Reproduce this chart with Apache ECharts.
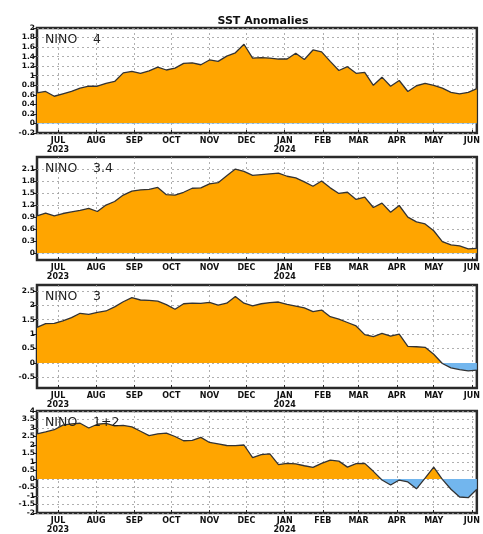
<!DOCTYPE html>
<html><head><meta charset="utf-8">
<script src="https://cdn.jsdelivr.net/npm/echarts@6/dist/echarts.min.js"></script>
<style>html,body{margin:0;padding:0;background:#fff}#c{width:483px;height:534px}</style>
</head><body><div id="c"></div>
<script>
// ---- data ----
const firstWeek = '2023-06-14';   // weekly (Wednesday-centred) values
const lastDay = '2024-06-05';
const monthTickDates = ['2023-07-01','2023-08-01','2023-09-01','2023-10-01','2023-11-01','2023-12-01',
                        '2024-01-01','2024-02-01','2024-03-01','2024-04-01','2024-05-01','2024-06-01'];
const monthLabels = ['JUL\n2023','AUG','SEP','OCT','NOV','DEC','JAN\n2024','FEB','MAR','APR','MAY','JUN'];

const nino4 = [0.64,0.67,0.57,0.62,0.67,0.74,0.78,0.78,0.84,0.88,1.06,1.09,1.05,1.10,1.18,1.12,1.16,1.26,1.27,1.23,
               1.33,1.30,1.41,1.48,1.66,1.37,1.38,1.37,1.35,1.35,1.47,1.34,1.54,1.50,1.30,1.11,1.19,1.05,1.07,0.80,
               0.97,0.78,0.90,0.67,0.79,0.84,0.80,0.74,0.65,0.62,0.65,0.73];
const nino34 = [0.93,1.00,0.93,0.99,1.03,1.07,1.12,1.04,1.20,1.29,1.45,1.55,1.58,1.59,1.64,1.46,1.45,1.52,1.62,1.63,
                1.73,1.76,1.93,2.10,2.04,1.94,1.96,1.98,2.00,1.92,1.88,1.78,1.67,1.80,1.63,1.49,1.52,1.34,1.40,1.14,
                1.25,1.02,1.19,0.90,0.78,0.73,0.56,0.29,0.21,0.18,0.11,0.12];
const nino3 = [1.23,1.36,1.37,1.46,1.57,1.72,1.68,1.75,1.80,1.94,2.12,2.26,2.18,2.17,2.14,2.02,1.86,2.05,2.07,2.06,
               2.10,2.00,2.07,2.30,2.07,1.98,2.05,2.09,2.11,2.03,1.97,1.91,1.78,1.83,1.60,1.52,1.40,1.28,0.98,0.91,
               1.02,0.93,1.00,0.57,0.56,0.54,0.30,-0.02,-0.17,-0.23,-0.28,-0.25];
const nino12 = [2.66,2.77,2.90,3.17,3.24,3.28,3.00,3.22,3.27,3.13,3.15,3.07,2.81,2.55,2.66,2.70,2.50,2.25,2.27,2.45,
                2.15,2.06,1.97,1.96,2.00,1.26,1.43,1.48,0.85,0.92,0.89,0.78,0.68,0.92,1.11,1.05,0.70,0.90,0.92,0.45,
                -0.06,-0.35,-0.06,-0.17,-0.58,0.05,0.70,-0.02,-0.60,-1.06,-1.10,-0.60];

const panelNames = ['NINO','NINO','NINO','NINO'];
const panelNums = ['4','3.4','3','1+2'];
const yTicks4  = [-0.2,0,0.2,0.4,0.6,0.8,1,1.2,1.4,1.6,1.8,2];
const yTicks34 = [0,0.3,0.6,0.9,1.2,1.5,1.8,2.1];
const yTicks3  = [-0.5,0,0.5,1,1.5,2,2.5];
const yTicks12 = [-2,-1.5,-1,-0.5,0,0.5,1,1.5,2,2.5,3,3.5,4];
const yRanges = [[-0.2,2],[-0.17,2.4],[-0.87,2.7],[-2,4]];
const titleText = 'SST Anomalies';

// ---- build ----
const DAY = 86400000;
const origin = Date.UTC(2023,6,1);
function dayOf(s){ const p=s.split('-').map(Number); return (Date.UTC(p[0],p[1]-1,p[2])-origin)/DAY; }
const x0 = dayOf(firstWeek), x1 = dayOf(lastDay);
const monthDays = monthTickDates.map(dayOf);
const seriesData = [nino4,nino34,nino3,nino12];
const yTicks = [yTicks4,yTicks34,yTicks3,yTicks12];

const grids = [
  {left:37, right:3, top:28, height:105},
  {left:37, right:3, top:157, height:103},
  {left:37, right:3, top:285, height:103},
  {left:37, right:3, top:411, height:104}
];
const ORANGE = '#FFA500', BLUE = '#72B6EE';
const fontFam = 'DejaVu Sans';
const grid=[], xAxis=[], yAxis=[], series=[], graphic=[];
seriesData.forEach((vals,i)=>{
  const g = grids[i];
  grid.push({left:g.left,right:g.right,top:g.top,height:g.height,show:true,borderColor:'#2a2a2a',borderWidth:2.5,backgroundColor:'#fff'});
  xAxis.push({type:'value',gridIndex:i,min:x0,max:x1,
    axisLine:{show:false,onZero:false},
    axisTick:{show:true,inside:true,length:3,lineStyle:{color:'#222'},customValues:monthDays},
    axisLabel:{show:true,customValues:monthDays,margin:4,fontSize:8,fontWeight:'bold',fontFamily:fontFam,color:'#111',lineHeight:8.5,
      formatter:v=>{const k=monthDays.indexOf(Math.round(v));return k>=0?monthLabels[k]:'';}},
    splitLine:{show:true,lineStyle:{color:'#9a9a9a',type:[2,3],width:0.8}}
  });
  const yt = yTicks[i];
  yAxis.push({type:'value',gridIndex:i,min:yRanges[i][0],max:yRanges[i][1],
    axisLine:{show:false,onZero:false},
    axisTick:{show:true,length:4,lineStyle:{color:'#222'},customValues:yt},
    axisLabel:{show:true,customValues:yt,margin:2,fontSize:7.5,fontWeight:'bold',fontFamily:fontFam,color:'#111',
      formatter:v=>String(Math.round(v*10)/10)},
    splitLine:{show:true,lineStyle:{color:'#9a9a9a',type:[2,3],width:0.8}}
  });
  series.push({type:'line',xAxisIndex:i,yAxisIndex:i,symbol:'none',
    data: vals.map((v,k)=>[x0+7*k, v]),
    lineStyle:{color:'#333',width:1.3},
    areaStyle:{opacity:1,color:ORANGE},
    z:3
  });
  graphic.push({type:'text',left:45,top:g.top+5,z:10,style:{text:panelNames[i],fontSize:12.5,fontFamily:fontFam,fill:'#222'}});
  graphic.push({type:'text',left:93,top:g.top+5,z:10,style:{text:panelNums[i],fontSize:12.5,fontFamily:fontFam,fill:'#222'}});
});

const chart = echarts.init(document.getElementById('c'),null,{renderer:'canvas'});
chart.setOption({
  animation:false,
  backgroundColor:'#fff',
  title:{text:titleText,left:258,textAlign:'center',top:11,textStyle:{fontSize:11,fontWeight:'bold',fontFamily:fontFam,color:'#111'}},
  grid, xAxis, yAxis, series, graphic
});
// split fill colour at the zero line: global-coordinate gradient placed at y = 0 of each panel
const upd = seriesData.map((vals,i)=>{
  const zy = chart.convertToPixel({gridIndex:i},[x0,0])[1];
  return {areaStyle:{opacity:1,color:new echarts.graphic.LinearGradient(0,zy-0.5,0,zy+0.5,[
    {offset:0,color:ORANGE},{offset:0.5,color:ORANGE},{offset:0.5,color:BLUE},{offset:1,color:BLUE}],true)}};
});
chart.setOption({series:upd});
</script></body></html>
